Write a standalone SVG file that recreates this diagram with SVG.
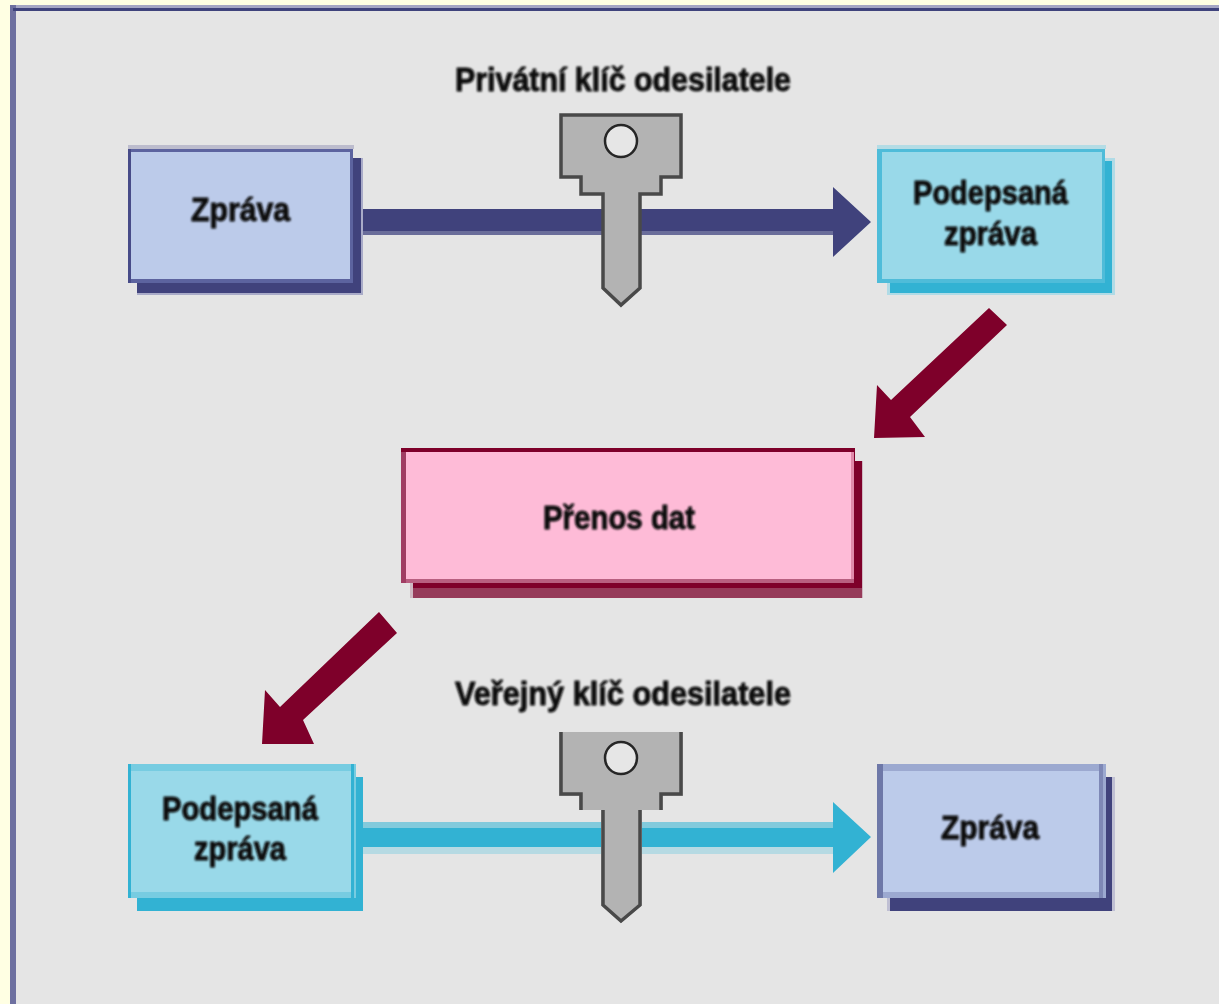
<svg xmlns="http://www.w3.org/2000/svg" width="1219" height="1004" viewBox="0 0 1219 1004">
<defs>
<filter id="soft" x="-5%" y="-20%" width="110%" height="140%"><feGaussianBlur stdDeviation="0.8"/></filter>
<filter id="edge" x="-2%" y="-2%" width="104%" height="104%"><feGaussianBlur stdDeviation="0.4"/></filter>
</defs>
<style>
text{font-family:"Liberation Sans",Arial,sans-serif;font-weight:bold;font-size:33px;fill:#0a0a0a;filter:url(#soft);stroke:#0a0a0a;stroke-width:.9px}
.key{fill:#b3b3b3;stroke:#4a4a4a;stroke-width:3.5;stroke-linejoin:miter}
.hole{fill:#e6e6e6;stroke:#262626;stroke-width:2.5}
.navy{fill:#3f437c}.cyan{fill:#33b2d3}.red{fill:#7e0029}
</style>
<rect width="1219" height="1004" fill="#ffffe3"/>
<rect x="10" y="5" width="1209" height="3" fill="#a5a6c4"/>
<rect x="10" y="5" width="6" height="999" fill="#6e70a0"/>
<rect x="13" y="8" width="1206" height="3" fill="#3f437c"/>
<rect x="16" y="11" width="1203" height="993" fill="#e5e5e5"/>
<g id="connectors" filter="url(#edge)">
<g id="arrow-top">
<rect x="353" y="231" width="480" height="4" fill="#6a6d9a"/>
<path class="navy" d="M353 209H833V187L871 222L833 257V231H353Z"/>
</g>
<path id="arrow-red-1" class="red" d="M989 308L1007 325L910 417L925 437L874 438L877 385L891 400Z"/>
<path id="arrow-red-2" class="red" d="M379 612L397 633L303 720L314 744L262 744L265 690L280 707Z"/>
<g id="arrow-bottom">
<rect x="356" y="822" width="477" height="6" fill="#82cadc"/>
<rect x="356" y="847" width="477" height="7" fill="#b6dae3"/>
<path class="cyan" d="M356 828H833V802L871 837L833 873V847H356Z"/>
</g>
</g>
<g id="node-zprava-1" filter="url(#edge)">
<rect x="137" y="158" width="226" height="137" fill="#a9abc8"/>
<rect x="137" y="158" width="224" height="135" class="navy"/>
<rect x="128" y="145" width="226" height="4" fill="#bcbccd"/>
<rect x="128" y="149" width="225" height="134" fill="#5b649f"/>
<rect x="128" y="149" width="3" height="134" fill="#474c88"/>
<rect x="131" y="152" width="219" height="127" fill="#bccbea"/>
</g>
<text x="191" y="221" textLength="99" lengthAdjust="spacingAndGlyphs">Zpráva</text>
<g id="node-podepsana-1" filter="url(#edge)">
<rect x="887" y="158" width="228" height="137" fill="#b0dbe6"/>
<rect x="890" y="161" width="222" height="132" class="cyan"/>
<rect x="877" y="145" width="229" height="4" fill="#b4dce5"/>
<rect x="877" y="149" width="228" height="134" fill="#4fbcd9"/>
<rect x="882" y="152" width="220" height="127" fill="#99d9e9"/>
</g>
<text x="913" y="204" textLength="155" lengthAdjust="spacingAndGlyphs">Podepsaná</text>
<text x="944" y="245" textLength="93" lengthAdjust="spacingAndGlyphs">zpráva</text>
<g id="node-prenos" filter="url(#edge)">
<rect x="410" y="461" width="453" height="137" fill="#cfb8c2"/>
<rect x="413" y="461" width="449" height="137" fill="#963a5a"/>
<rect x="413" y="461" width="449" height="127" class="red"/>
<rect x="401" y="448" width="454" height="135" fill="#7e0029"/>
<rect x="401" y="452" width="5" height="131" fill="#a03c64"/>
<rect x="406" y="452" width="448" height="127" fill="#e08aaa"/>
<rect x="406" y="452" width="445" height="127" fill="#febbd7"/>
<rect x="406" y="579" width="448" height="4" fill="#b85f80"/>
</g>
<text x="543" y="529" textLength="152" lengthAdjust="spacingAndGlyphs">Přenos dat</text>
<g id="node-podepsana-2" filter="url(#edge)">
<rect x="137" y="777" width="226" height="134" class="cyan"/>
<rect x="128" y="764" width="228" height="134" fill="#77cce1"/>
<rect x="128" y="764" width="3" height="134" fill="#33b2d3"/>
<rect x="351" y="764" width="3" height="134" fill="#33b2d3"/>
<rect x="131" y="771" width="220" height="121" fill="#99d9e9"/>
</g>
<text x="162" y="820" textLength="156" lengthAdjust="spacingAndGlyphs">Podepsaná</text>
<text x="194" y="860" textLength="92" lengthAdjust="spacingAndGlyphs">zpráva</text>
<g id="node-zprava-2" filter="url(#edge)">
<rect x="887" y="777" width="228" height="134" fill="#bfbfd3"/>
<rect x="890" y="777" width="222" height="134" class="navy"/>
<rect x="877" y="764" width="229" height="134" fill="#9ca9d0"/>
<rect x="877" y="764" width="6" height="134" fill="#6e78a8"/>
<rect x="1099" y="764" width="4" height="134" fill="#7e88b6"/>
<rect x="883" y="771" width="216" height="121" fill="#bccbea"/>
</g>
<text x="941" y="839" textLength="98" lengthAdjust="spacingAndGlyphs">Zpráva</text>
<g id="key-private" filter="url(#edge)">
<path class="key" d="M561 115H681V177H661V194H640V288L621 305L603 288V194H581V177H561Z"/>
<circle class="hole" cx="621" cy="141" r="16"/>
</g>
<text x="455" y="91" textLength="336" lengthAdjust="spacingAndGlyphs">Privátní klíč odesilatele</text>
<g id="key-public" filter="url(#edge)">
<path d="M559 732H683V796H663V810H642V905L621 923L601 905V810H579V796H559Z" fill="#b3b3b3"/>
<path fill="none" stroke="#4a4a4a" stroke-width="3.5" d="M561 732V794H581V810M681 732V794H661V810M603 810V905L621 921L640 905V810"/>
<circle class="hole" cx="621" cy="758" r="16"/>
</g>
<text x="455" y="705" textLength="336" lengthAdjust="spacingAndGlyphs">Veřejný klíč odesilatele</text>
</svg>
